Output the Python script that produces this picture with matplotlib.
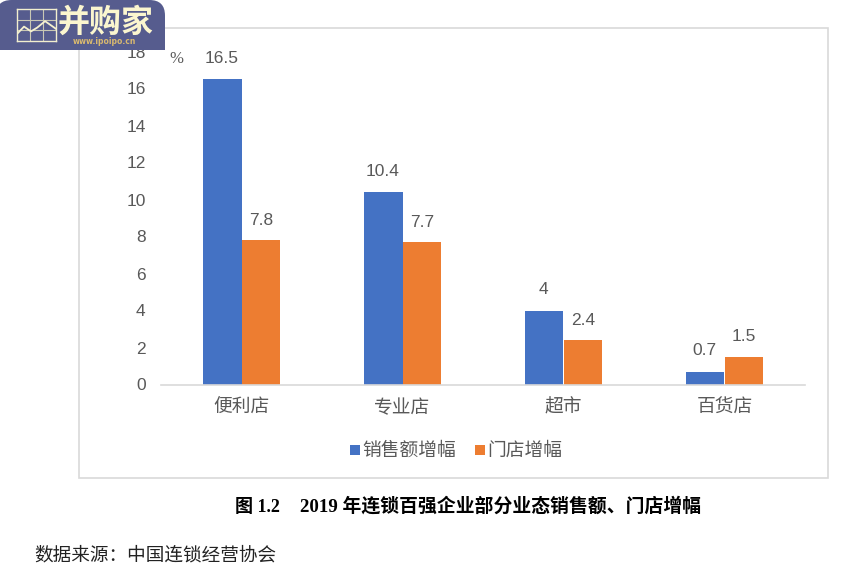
"""
2019 chain top 100 growth by retail format, bar chart with logo and caption
"""
import numpy as np
import matplotlib
matplotlib.use('Agg')
import matplotlib.pyplot as plt
from matplotlib.patches import FancyBboxPatch, Rectangle
from matplotlib.lines import Line2D
from matplotlib.transforms import Bbox, TransformedBbox

plt.rcParams['font.family'] = ['Noto Sans CJK SC', 'DejaVu Sans']

categories = ['便利店', '专业店', '超市', '百货店']
sales_growth = [16.5, 10.4, 4, 0.7]
store_growth = [7.8, 7.7, 2.4, 1.5]
sales_labels = ['16.5', '10.4', '4', '0.7']
store_labels = ['7.8', '7.7', '2.4', '1.5']
y_ticks = [0, 2, 4, 6, 8, 10, 12, 14, 16, 18]
logo_line_x = [0.0, 0.18, 0.36, 0.52, 0.72, 1.0]
logo_line_y = [0.22, 0.45, 0.3, 0.42, 0.62, 0.38]

BLUE = '#4472c4'
ORANGE = '#ed7d31'
GREY = '#595959'
NUM_FONT = ['Liberation Sans', 'DejaVu Sans']
CAPTION_FONT = ['Liberation Serif', 'Noto Sans CJK SC']
W, H = 864, 570


def fx(px):
    return px / W


def fy(py):
    return 1 - py / H


def main():
    fig = plt.figure(figsize=(8.64, 5.70), dpi=100, facecolor='white')

    # chart frame, kept behind the axes
    fig.add_artist(Rectangle((fx(78.5), fy(478)), 749 / W, 450 / H, transform=fig.transFigure,
                             facecolor='white', edgecolor='#d9d9d9', linewidth=1.2, zorder=-1))

    ax = fig.add_axes([fx(161), fy(384.5), 644 / W, 333 / H])
    ax.set_xlim(-0.5, 3.5)
    ax.set_ylim(0, 18)
    ax.patch.set_alpha(0)

    x = np.arange(len(categories))
    width = 0.24
    ax.bar(x - width / 2, sales_growth, width, color=BLUE, zorder=2)
    ax.bar(x + width / 2, store_growth, width, color=ORANGE, zorder=2)

    for xi, v, s in zip(x, sales_growth, sales_labels):
        ax.annotate(s, (xi - width / 2 - 0.005, v), xytext=(0, 9.5), textcoords='offset points',
                    ha='center', va='bottom', fontsize=12.5, color=GREY, annotation_clip=False,
                    family=NUM_FONT)
    for xi, v, s in zip(x, store_growth, store_labels):
        ax.annotate(s, (xi + width / 2, v), xytext=(0, 9), textcoords='offset points',
                    ha='center', va='bottom', fontsize=12.5, color=GREY, annotation_clip=False,
                    family=NUM_FONT)

    for side in ('top', 'right', 'left'):
        ax.spines[side].set_visible(False)
    ax.spines['bottom'].set_color('#d9d9d9')
    ax.spines['bottom'].set_linewidth(1.2)
    ax.set_xticks(x)
    ax.set_xticklabels(categories, fontsize=13.5, color=GREY, va='baseline')
    ax.set_yticks(y_ticks)
    ax.set_yticklabels([str(t) for t in y_ticks], fontsize=12.5, color=GREY, family=NUM_FONT)
    ax.tick_params(axis='both', length=0)
    ax.tick_params(axis='x', pad=20.5)
    ax.tick_params(axis='y', pad=11)

    fig.text(fx(176.5), fy(59), '%', ha='center', va='center', fontsize=12, color=GREY,
             family='Liberation Serif')

    # legend
    fig.add_artist(Rectangle((fx(350), fy(455)), 10 / W, 10 / H, transform=fig.transFigure,
                             facecolor=BLUE, edgecolor='none'))
    fig.text(fx(362), fy(450), '销售额增幅', ha='left', va='center', fontsize=13.5, color=GREY)
    fig.add_artist(Rectangle((fx(475), fy(455)), 10 / W, 10 / H, transform=fig.transFigure,
                             facecolor=ORANGE, edgecolor='none'))
    fig.text(fx(487), fy(450), '门店增幅', ha='left', va='center', fontsize=13.5, color=GREY)

    # caption and source
    fig.text(fx(235), fy(512), '图 1.2', ha='left', va='baseline', fontsize=13, color='black',
             weight='bold', family=CAPTION_FONT)
    fig.text(fx(300), fy(512), '2019 年连锁百强企业部分业态销售额、门店增幅', ha='left', va='baseline',
             fontsize=13.55, color='black', weight='bold', family=CAPTION_FONT)
    fig.text(fx(34.5), fy(555), '数据来源：中国连锁经营协会', ha='left', va='center', fontsize=13.4,
             color='#222222')

    # logo badge, round on top and cut flat at the bottom
    badge = FancyBboxPatch((fx(-4), fy(80)), 169 / W, 80 / H, transform=fig.transFigure,
                           boxstyle='round,pad=0,rounding_size=0.018', mutation_aspect=W / H,
                           facecolor='#565c8e', edgecolor='none', zorder=5)
    fig.add_artist(badge)
    badge.set_clip_box(TransformedBbox(Bbox([[0, fy(50)], [1, 1]]), fig.transFigure))

    logo = fig.add_axes([fx(17), fy(41), 39 / W, 32 / H], zorder=6)
    logo.set_xlim(0, 1)
    logo.set_ylim(0, 1)
    logo.patch.set_alpha(0)
    logo.set_xticks([1 / 3, 2 / 3])
    logo.set_yticks([1 / 3, 2 / 3])
    logo.grid(color='#c9c8b4', linewidth=0.8)
    logo.tick_params(length=0, labelbottom=False, labelleft=False)
    for s in logo.spines.values():
        s.set_color('#f2efcf')
        s.set_linewidth(1)
    logo.add_line(Line2D(logo_line_x, logo_line_y, color='#f5f1cf', linewidth=1.3))

    fig.text(fx(105.5), fy(22.5), '并购家', ha='center', va='center', fontsize=23, color='#fbf6cf',
             weight='bold', zorder=7)
    fig.text(fx(104), fy(42), 'www.ipoipo.cn', ha='center', va='center', fontsize=5.5, color='#d9b96f',
             zorder=7, family='DejaVu Sans', weight='bold')

    fig.savefig('out.png', dpi=100)
    plt.close(fig)


if __name__ == "__main__":
    main()
